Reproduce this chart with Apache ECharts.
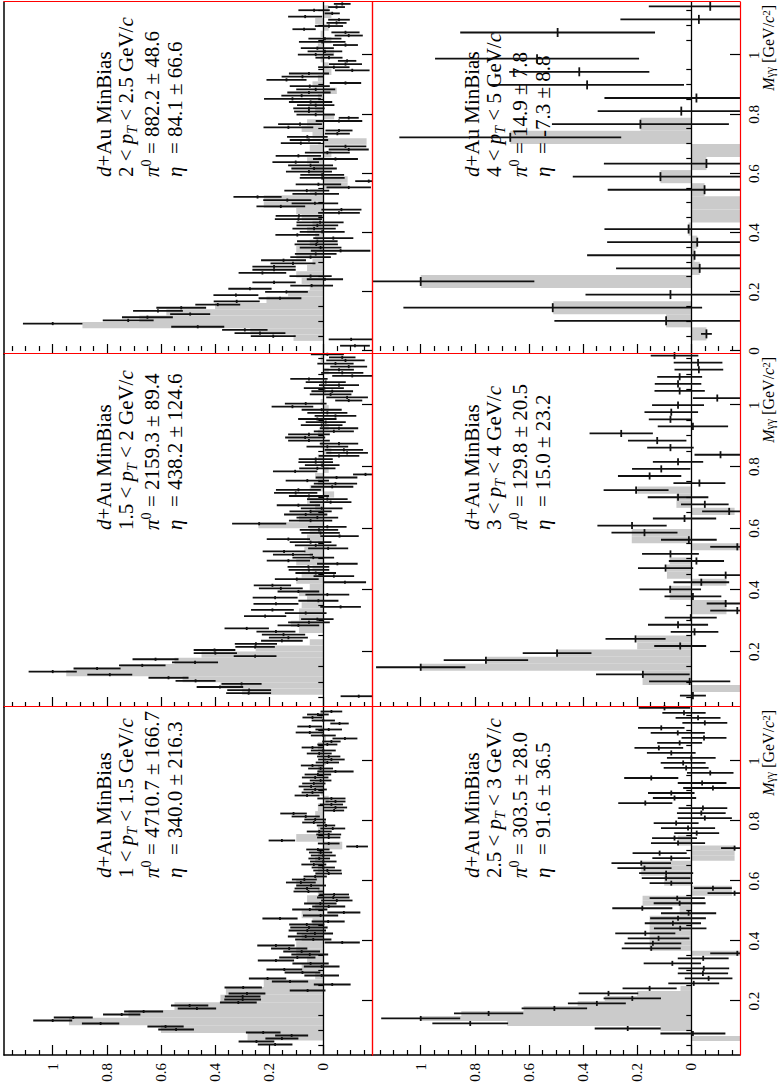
<!DOCTYPE html>
<html>
<head>
<meta charset="utf-8">
<script src="https://cdn.jsdelivr.net/npm/echarts@6.0.0/dist/echarts.min.js"></script>
<style>
  html, body { margin: 0; padding: 0; background: #fff; width: 782px; height: 1085px; overflow: hidden; }
  /* the figure is a landscape page turned a quarter turn to the left */
  #page { position: absolute; left: 0; top: 0; width: 1085px; height: 782px;
          transform-origin: 0 0; transform: translateY(1085px) rotate(-90deg); }
</style>
</head>
<body>
<div id="page"></div>
<script>
// ---- ticks ----
const massMajor = [0, 0.2, 0.4, 0.6, 0.8, 1];
const massMinor = [0.05, 0.1, 0.15, 0.25, 0.3, 0.35, 0.45, 0.5, 0.55, 0.65, 0.7, 0.75, 0.85, 0.9, 0.95, 1.05, 1.1, 1.15];
const valMajor = [0, 0.2, 0.4, 0.6, 0.8, 1];
const valMinor = [-0.15, -0.1, -0.05, 0.05, 0.1, 0.15, 0.25, 0.3, 0.35, 0.45, 0.5, 0.55, 0.65, 0.7, 0.75, 0.85, 0.9, 0.95, 1.05, 1.1, 1.15];
const colMassMin = [0.02, 0.02, -0.01];
const colMassMax = [1.18, 1.166, 1.18];
const valMin = -0.18, valMax = 1.18;

// ---- labels ----
const ptLow = ['1', '1.5', '2', '2.5', '3', '4'];
const ptHigh = ['1.5', '2', '2.5', '3', '4', '5'];
const piText = ['4710.7 \u00b1 166.7', '2159.3 \u00b1 89.4', '882.2 \u00b1 48.6', '303.5 \u00b1 28.0', '129.8 \u00b1 20.5', '14.9 \u00b1 7.8'];
const etaText = ['340.0 \u00b1 216.3', '438.2 \u00b1 124.6', '84.1 \u00b1 66.6', '91.6 \u00b1 36.5', '15.0 \u00b1 23.2', '-7.3 \u00b1 8.8'];

// ---- 1 < pT < 1.5 ----
const aStart = 0.055, aWidth = 0.01;
const aVal = [0.178, 0.247, 0.153, 0.117, 0.222, 0.544, 0.583, 0.823, 1.0, 0.924, 0.745, 0.664, 0.467, 0.494, 0.314, 0.298, 0.298, 0.282, 0.058, 0.296,
  -0.033, 0.123, 0.206, 0.006, 0.077, 0.144, 0.006, 0.047, 0.175, 0.096, 0.05, 0.08, 0.126, 0.175, -0.07, 0.037, 0.065, 0.031, 0.059, 0.053,
  0.061, -0.018, 0.16, 0.01, -0.076, 0.05, -0.02, 0.011, -0.05, -0.037, -0.04, 0.055,
  0.06, 0.045, 0.083, 0.07, 0.03, -0.02, -0.015, 0, 0.035, 0, 0.015, 0, 0.01, 0.02, -0.125, -0.02, 0.153, -0.02, -0.02, 0.015,
  -0.035, -0.01, 0.035, 0.03, 0.065, 0.11, -0.04, -0.045, -0.03, -0.045, -0.03, 0.06, 0.04, 0.03, 0.045, 0.035, 0.01, 0.03, 0.02, -0.045,
  0.01, 0.04, -0.015, -0.03, -0.02, 0.015, 0, 0.04, -0.015, -0.03, -0.08, 0, 0.05, -0.02, 0.05, -0.06, 0, 0.04, 0.02, -0.03];
const aErr = [0.064, 0.066, 0.061, 0.061, 0.064, 0.066, 0.067, 0.069, 0.072, 0.072, 0.069, 0.072, 0.071, 0.069, 0.068, 0.068, 0.066, 0.068, 0.066, 0.069,
  0.068, 0.067, 0.069, 0.064, 0.066, 0.066, 0.066, 0.067, 0.067, 0.067, 0.068, 0.068, 0.067, 0.069, 0.065, 0.067, 0.066, 0.067, 0.069, 0.069,
  0.065, 0.061, 0.065, 0.065, 0.061, 0.065, 0.061, 0.06, 0.058, 0.06, 0.055, 0.055,
  0.046, 0.055, 0.055, 0.046, 0.043, 0.049, 0.052, 0.043, 0.046, 0.049, 0.04, 0.046, 0.043, 0.043, 0.04, 0.04, 0.049, 0.043, 0.046, 0.046,
  0.046, 0.034, 0.043, 0.04, 0.052, 0.049, 0.037, 0.043, 0.043, 0.037, 0.052, 0.046, 0.04, 0.043, 0.046, 0.043, 0.04, 0.049, 0.049, 0.067,
  0.046, 0.043, 0.043, 0.049, 0.043, 0.046, 0.046, 0.04, 0.037, 0.034, 0.046, 0.046, 0.052, 0.049, 0.046, 0.034, 0.043, 0.037, 0.04, 0.04];
const aGrayStart = 0.068, aGrayWidth = 0.0255;
const aGray = [0.28, 0.6, 0.94, 0.72, 0.55, 0.38, 0.36, 0.22, 0.03, 0.08, 0.06, 0.1, 0.1, 0.08, 0.05, 0.04, 0.08, 0.03, 0.06, 0.02,
  0.1, 0.03, 0.02, 0.03, 0.02, -0.07, 0.1, 0.02, -0.01, 0.03, 0.02, -0.02, 0.01, 0.03, 0, 0.02, -0.01, 0.01, 0.02, -0.01, 0.01, 0, 0.01, 0];

// ---- 1.5 < pT < 2 ----
const bStart = 0.055, bWidth = 0.01;
const bVal = [-0.131, 0.276, 0.274, 0.382, 0.302, 0.472, 0.572, 0.789, 1.0, 0.836, 0.669, 0.474, 0.62, 0.252, 0.399, 0.402, 0.252, 0.249, 0.153, 0.129,
  0.147, 0.175, 0.283, 0.092, 0.053, 0.022, 0.215, 0.065, 0.188, -0.064, 0.175, 0.018, 0.178, -0.015, 0.092, 0.157, 0.188, -0.08, 0.098, -0.039,
  0.028, 0.053, 0.055, -0.052, 0.129, 0.037, 0.112, 0.145, -0.018, 0.028, 0.047, 0.129, -0.06, 0.01, 0.016, -0.015,
  0.237, 0.047, 0.022, 0.065, 0.047, 0.006, 0.092, -0.027, -0.015, 0.053, 0.102, 0.092, -0.033, -0.045, 0.059, -0.049, -0.156, 0.104, 0.022, 0.004,
  0.028, 0.028, -0.058, -0.088, -0.076, -0.015, -0.058, 0.053, 0.067, 0.053, -0.039, -0.058, 0.006, -0.009, 0.022, -0.045, -0.015, 0.006, 0.114, 0.065,
  -0.094, -0.088, -0.027, -0.033, -0.002, -0.058, -0.009, 0.053, -0.107, -0.07, -0.058, -0.094, -0.045, -0.082, -0.07, -0.015];
const bErr = [0.067, 0.083, 0.081, 0.086, 0.074, 0.074, 0.074, 0.083, 0.089, 0.087, 0.086, 0.085, 0.085, 0.079, 0.08, 0.077, 0.073, 0.078, 0.077, 0.072,
  0.08, 0.072, 0.082, 0.077, 0.077, 0.06, 0.078, 0.077, 0.079, 0.075, 0.083, 0.074, 0.083, 0.081, 0.077, 0.081, 0.069, 0.078, 0.081, 0.075,
  0.075, 0.075, 0.077, 0.075, 0.08, 0.077, 0.074, 0.079, 0.074, 0.077, 0.077, 0.08, 0.071, 0.071, 0.071, 0.071,
  0.1, 0.08, 0.077, 0.08, 0.078, 0.077, 0.08, 0.077, 0.075, 0.074, 0.08, 0.083, 0.078, 0.08, 0.08, 0.077, 0.046, 0.082, 0.067, 0.064,
  0.064, 0.063, 0.075, 0.077, 0.071, 0.077, 0.071, 0.077, 0.074, 0.077, 0.074, 0.071, 0.077, 0.074, 0.071, 0.077, 0.074, 0.074, 0.077, 0.077,
  0.05, 0.077, 0.077, 0.077, 0.074, 0.074, 0.074, 0.069, 0.074, 0.078, 0.055, 0.068, 0.067, 0.071, 0.049, 0.061];
const bGrayStart = 0.06, bGrayWidth = 0.02;
const bGray = [0.3, 0.38, 0.52, 0.95, 0.75, 0.55, 0.45, 0.25, 0.05, 0, 0.09, 0.12, 0.09, 0.09, 0.08, 0.06, 0.09, 0.05, 0.1, 0.08,
  0.04, 0.1, 0.05, 0.07, 0.02, 0.06, 0.05, 0.24, 0.09, 0.05, 0.03, 0.06, -0.04, 0.05, 0.02, 0.03, -0.02, 0.01, 0.02, -0.03,
  0.01, 0, 0.02, -0.02, 0.01, 0, -0.02, 0.01, 0, -0.01, 0.01, 0, -0.02, 0, 0.01, 0];

// ---- 2 < pT < 2.5 ----
const cStart = 0.018, cWidth = 0.0107;
const cVal = [-0.117, null, -0.103, 0.185, 0.234, 0.29, 0.464, 1.0, 0.721, 0.65, 0.492, 0.611, 0.525, 0.39, 0.32, 0.16, 0.323, 0.136, 0.271, 0.043,
  0.182, -0.006, 0.047, 0.225, 0.182, 0.182, 0.112, 0.147, 0.047, 0.028, -0.064, 0.01, 0.026, 0.022, -0.037, 0.096, 0.004, 0.034, 0.022, 0.012,
  0.092, 0.09, -0.058, -0.067, 0.157, 0.031, 0.133, 0.243, 0.028, 0.061, -0.094, 0.018, -0.168, 0.004, 0.004, 0.053,
  0.034, 0.047, 0.102, -0.045, 0.092, -0.015, -0.094, -0.082, 0.083, 0.053, 0.059, -0.052, -0.058, 0.129, 0.086, -0.058, -0.094, 0.028, 0.053, 0.053,
  0.028, 0.047, 0.114, 0.08, 0.053, 0.028, 0.05, -0.082, 0.136, 0.077, 0.053, -0.107, -0.039, -0.082, -0.088, -0.021, 0.028, -0.006, 0.022, -0.082,
  0.004, -0.006, -0.094, -0.082, 0.071, -0.021, -0.049, -0.058, 0.067, -0.033, 0.034, -0.049, -0.07];
const cErr = [0.055, 0, 0.083, 0.083, 0.094, 0.084, 0.098, 0.11, 0.094, 0.094, 0.074, 0.092, 0.092, 0.083, 0.085, 0.079, 0.083, 0.079, 0.08, 0.079,
  0.08, 0.067, 0.078, 0.088, 0.08, 0.08, 0.083, 0.083, 0.075, 0.077, 0.11, 0.077, 0.08, 0.075, 0.074, 0.081, 0.083, 0.08, 0.077, 0.087,
  0.087, 0.086, 0.077, 0.074, 0.09, 0.086, 0.089, 0.089, 0.086, 0.083, 0.082, 0.084, 0.05, 0.083, 0.081, 0.085,
  0.084, 0.083, 0.086, 0.083, 0.084, 0.083, 0.074, 0.077, 0.074, 0.071, 0.075, 0.046, 0.05, 0.092, 0.081, 0.086, 0.037, 0.071, 0.055, 0.058,
  0.069, 0.08, 0.105, 0.075, 0.08, 0.072, 0.074, 0.058, 0.074, 0.077, 0.074, 0.064, 0.058, 0.061, 0.034, 0.05, 0.066, 0.064, 0.061, 0.046,
  0.086, 0.061, 0.052, 0.052, 0.043, 0.052, 0.037, 0.04, 0.063, 0.028, 0.058, 0.031, 0.031];
const cGrayStart = 0.013, cGrayWidth = 0.0214;
const cGray = [0, 0.11, 0.27, 0.89, 0.68, 0.58, 0.4, 0.21, 0.13, 0.05, 0.08, 0.1, 0.06, 0.04, 0.1, 0.1, 0.05, 0.03, 0.06, 0.04,
  0.08, 0.1, 0.22, 0.22, 0.05, -0.09, -0.09, 0.05, 0.04, 0.06, -0.03, 0.05, -0.16, 0.04, 0.08, 0.06, -0.04, 0.03, 0.05, 0.02,
  -0.05, 0.04, 0.02, -0.03, -0.02, 0.01, -0.04, 0.02, -0.03, 0.01, -0.02, 0.03, -0.03, -0.02, 0];

// ---- 2.5 < pT < 3 ----
const dStart = 0.075, dWidth = 0.0167;
const dVal = [null, -0.006, 0.235, 0.817, 1.0, 0.749, 0.506, 0.349, 0.218, 0.306, 0.154, -0.009, -0.064, -0.043, -0.046, 0.07, -0.044, -0.17, 0.148, 0.142,
  0.121, 0.17, 0.041, 0.068, 0.049, 0.01, 0.181, 0.043, 0.052, -0.16,
  -0.08, 0.074, 0.093, 0.093, 0.173, 0.185, 0.074, 0.117, -0.16, 0.049, 0.062, -0.02, 0.012, 0.056, -0.05, -0.037, -0.043, 0.17, 0.062, 0.074,
  -0.08, -0.04, 0.148, -0.07, 0.019, 0.03, 0.0, 0.074, 0.12, 0.043, -0.047, 0.05, 0.111, -0.05, -0.025, 0.027, 0.099];
const dErr = [0, 0.12, 0.122, 0.14, 0.146, 0.128, 0.121, 0.107, 0.106, 0.11, 0.1, 0.094, 0.088, 0.093, 0.094, 0.106, 0.094, 0.1, 0.109, 0.105,
  0.114, 0.111, 0.097, 0.104, 0.103, 0.102, 0.111, 0.096, 0.102, 0.1,
  0.07, 0.08, 0.09, 0.1, 0.1, 0.11, 0.07, 0.1, 0.05, 0.1, 0.083, 0.083, 0.1, 0.083, 0.1, 0.09, 0.09, 0.1, 0.08, 0.086,
  0.11, 0.09, 0.1, 0.086, 0.083, 0.083, 0.09, 0.09, 0.09, 0.083, 0.083, 0.1, 0.086, 0.083, 0.083, 0.08, 0.095];
const dGray = [-0.25, 0, 0.114, 0.68, 1.0, 0.85, 0.62, 0.42, 0.32, 0.2, 0.04, 0, 0, 0, 0, 0, 0, -0.25, 0.154, 0.154,
  0.154, 0.154, 0.154, 0.154, 0.154, 0.043, 0.043, 0.18, 0.18, -0.15, -0.15, 0.1, 0.1, 0.185, 0.185, 0.185, -0.16, -0.16, -0.16, 0.05,
  0.05, 0, 0, 0, 0, 0, 0, 0, 0, 0, 0, 0, 0, 0, 0, 0, 0, 0, 0, 0, 0, 0, 0, 0, 0, 0, 0];

// ---- 3 < pT < 4 ----
const eStart = 0.057, eWidth = 0.023;
const eVal = [-0.006, null, 0.006, 0.179, 1.0, 0.759, 0.496, 0.041, 0.206, -0.012, 0.049, 0.002, -0.17, -0.127, -0.006, 0.078, -0.037, -0.127, 0.095, -0.019,
  0.077, -0.17, 0.009, 0.173, 0.219, 0.025, -0.14, -0.05, 0.049, 0.204, -0.03, 0.154, 0.111, 0.049, -0.108, 0.077, 0.126, 0.259, -0.006, 0.077,
  0.074, 0.049, -0.096, 0.043, 0.049, 0.043, -0.028, -0.025, 0.062];
const eErr = [0.048, 0, 0.15, 0.173, 0.165, 0.156, 0.127, 0.096, 0.111, 0.088, 0.111, 0.096, 0.1, 0.07, 0.105, 0.114, 0.103, 0.1, 0.102, 0.102,
  0.105, 0.1, 0.103, 0.122, 0.128, 0.117, 0.1, 0.088, 0.112, 0.12, 0.096, 0.117, 0.108, 0.093, 0.096, 0.086, 0.108, 0.117, 0.13, 0.08,
  0.099, 0.096, 0.09, 0.093, 0.086, 0.083, 0.09, 0.09, 0.088];
const eGray = [0, -0.25, 0.18, 0.18, 1.0, 0.76, 0.5, 0.2, 0.2, 0, 0, 0, -0.13, -0.13, 0.08, 0.08, -0.13, 0.09, 0.09, 0.08,
  0, -0.25, 0.22, 0.22, 0, 0, -0.16, 0.055, 0.055, 0.2, 0, 0, 0, 0, 0, 0, 0, 0, 0, 0, 0, 0, 0, 0, 0, 0, 0, 0, 0];

// ---- 4 < pT < 5 ----
const fStart = 0.058, fWidth = 0.0443;
const fVal = [-0.056, 0.093, 0.512, 0.077, 1.0, -0.031, -0.012, -0.022, 0.01, null, null, -0.049, 0.114, -0.056, null, 0.669, 0.188, 0.037, -0.019, 0.385,
  0.414, 0.57, null, 0.494, -0.028, -0.07];
const fErr = [0.02, 0.413, 0.552, 0.314, 0.42, 0.309, 0.397, 0.333, 0.311, 0, 0, 0.358, 0.324, 0.379, 0, 0.41, 0.327, 0.309, 0.34, 0.358,
  0.259, 0.377, 0, 0.36, 0.29, 0.227];
const fGray = [-0.056, 0.093, 0.51, 0, 1.0, -0.031, -0.012, -0.022, 0.01, -0.5, -0.5, -0.049, 0.114, -0.056, -0.5, 0.669, 0.188, 0, 0, 0,
  0, 0, 0, 0, 0, 0];

// ---- layout (landscape page, 1085 x 782) ----
const colLeft = [30, 378, 731], colWidth = [348, 353, 352];
const rowTop = [4, 372], rowHeight = 368;
const SERIF = '"Liberation Serif", "DejaVu Serif", serif';
const GRAY = '#cbcbcb';
const INK = '#111';
const RED = '#ff0000';

const panels = [
  { row: 0, col: 0, start: aStart, width: aWidth, val: aVal, err: aErr, gStart: aGrayStart, gWidth: aGrayWidth, gray: aGray },
  { row: 0, col: 1, start: bStart, width: bWidth, val: bVal, err: bErr, gStart: bGrayStart, gWidth: bGrayWidth, gray: bGray },
  { row: 0, col: 2, start: cStart, width: cWidth, val: cVal, err: cErr, gStart: cGrayStart, gWidth: cGrayWidth, gray: cGray },
  { row: 1, col: 0, start: dStart, width: dWidth, val: dVal, err: dErr, gStart: dStart - dWidth / 2, gWidth: dWidth, gray: dGray },
  { row: 1, col: 1, start: eStart, width: eWidth, val: eVal, err: eErr, gStart: eStart - eWidth / 2, gWidth: eWidth, gray: eGray },
  { row: 1, col: 2, start: fStart, width: fWidth, val: fVal, err: fErr, gStart: fStart - fWidth / 2, gWidth: fWidth, gray: fGray }
];

function inRange(list, lo, hi) { return list.filter(v => v >= lo && v <= hi); }

function errRender(binWidth) {
  return function (params, api) {
    const m = api.value(0), v = api.value(1), e = api.value(2);
    const st = { stroke: INK, lineWidth: 1.8 };
    const kids = [];
    const lo = Math.max(v - e, valMin), hi = Math.min(v + e, valMax);
    if (hi > lo) {
      const p1 = api.coord([m, lo]), p2 = api.coord([m, hi]);
      kids.push({ type: 'line', shape: { x1: p1[0], y1: p1[1], x2: p2[0], y2: p2[1] }, style: st });
    }
    if (v >= valMin && v <= valMax) {
      const c = api.coord([m, v]);
      const half = Math.min(api.size([binWidth, 0])[0] * 0.5, 4.5);
      kids.push({ type: 'line', shape: { x1: c[0] - half, y1: c[1], x2: c[0] + half, y2: c[1] }, style: st });
    }
    return { type: 'group', children: kids };
  };
}

function grayRender(params, api) {
  const a = api.coord([api.value(0), 0]);
  const b = api.coord([api.value(1), api.value(2)]);
  const cs = params.coordSys;
  const r = echarts.graphic.clipRectByRect(
    { x: a[0], y: Math.min(a[1], b[1]), width: b[0] - a[0], height: Math.abs(b[1] - a[1]) },
    { x: cs.x, y: cs.y, width: cs.width, height: cs.height });
  if (!r || r.height <= 0) return;
  return { type: 'rect', shape: r, style: { fill: GRAY } };
}

const richBase = {
  it: { fontFamily: SERIF, fontSize: 21, fontStyle: 'italic', lineHeight: 26 },
  sub: { fontFamily: SERIF, fontSize: 14, fontStyle: 'italic', lineHeight: 10, verticalAlign: 'bottom' },
  sup: { fontFamily: SERIF, fontSize: 14, lineHeight: 10, verticalAlign: 'top' }
};

function textEl(x, y, text) {
  return {
    type: 'text', x: x, y: y, z: 3, silent: true,
    style: { text: text, fill: '#000', fontFamily: SERIF, fontSize: 21, lineHeight: 26,
             align: 'left', verticalAlign: 'middle', rich: richBase }
  };
}

function plainAxis(extra) {
  return Object.assign({ type: 'value', z: 6, axisTick: { show: false }, axisLabel: { show: false }, splitLine: { show: false } }, extra);
}

const grid = [], xAxis = [], yAxis = [], series = [], graphic = [];
panels.forEach((p, i) => {
  const mMin = colMassMin[p.col], mMax = colMassMax[p.col];
  const left = colLeft[p.col], top = rowTop[p.row], w = colWidth[p.col];
  grid.push({ left: left, top: top, width: w, height: rowHeight, show: false });
  const xi = xAxis.length, yi = yAxis.length;
  const majM = inRange(massMajor, mMin, mMax), minM = inRange(massMinor, mMin, mMax);
  // mass axis (bottom): red frame line with black ticks
  xAxis.push({
    type: 'value', gridIndex: i, min: mMin, max: mMax, position: 'bottom', z: 7,
    axisLine: { show: true, onZero: false, lineStyle: { color: RED, width: 1.2 } },
    axisTick: { show: true, inside: true, length: 10, customValues: majM, lineStyle: { color: '#000', width: 1.2 } },
    axisLabel: { show: p.row === 1, customValues: majM, margin: 6, color: '#000', fontFamily: SERIF, fontSize: 15 },
    splitLine: { show: false }
  });
  xAxis.push(plainAxis({
    gridIndex: i, min: mMin, max: mMax, position: 'bottom',
    axisLine: { show: false },
    axisTick: { show: true, inside: true, length: 5, customValues: minM, lineStyle: { color: '#000', width: 1.2 } }
  }));
  // top frame line
  xAxis.push(plainAxis({
    gridIndex: i, min: mMin, max: mMax, position: 'top', z: p.row === 0 ? 6 : 7,
    axisLine: { show: true, onZero: false, lineStyle: { color: p.row === 0 ? '#000' : RED, width: p.row === 0 ? 1.5 : 1.2 } }
  }));
  // value axis (left): black on the outer edge, red between panels
  yAxis.push({
    type: 'value', gridIndex: i, min: valMin, max: valMax, position: 'left', z: 6,
    axisLine: { show: true, onZero: false, lineStyle: { color: p.col === 0 ? '#000' : RED, width: p.col === 0 ? 1.5 : 1.2 } },
    axisTick: { show: true, inside: true, length: 10, customValues: valMajor, lineStyle: { color: '#000', width: 1.2 } },
    axisLabel: { show: p.col === 0, customValues: valMajor, margin: 8, color: '#000', fontFamily: SERIF, fontSize: 15 },
    splitLine: { show: false }
  });
  yAxis.push(plainAxis({
    gridIndex: i, min: valMin, max: valMax, position: 'left',
    axisLine: { show: false },
    axisTick: { show: true, inside: true, length: 5, customValues: valMinor, lineStyle: { color: '#000', width: 1.2 } }
  }));
  // right frame line, red
  yAxis.push(plainAxis({
    gridIndex: i, min: valMin, max: valMax, position: 'right', z: 7,
    axisLine: { show: true, onZero: false, lineStyle: { color: RED, width: 1.2 } }
  }));

  const grayData = p.gray.map((v, k) => [p.gStart + k * p.gWidth, p.gStart + (k + 1) * p.gWidth, v]);
  const pts = [];
  p.val.forEach((v, k) => { if (v !== null) pts.push([p.start + k * p.width, v, p.err[k]]); });

  series.push({ type: 'custom', xAxisIndex: xi, yAxisIndex: yi, z: 1, silent: true,
                renderItem: grayRender, data: grayData });
  series.push({ type: 'custom', xAxisIndex: xi, yAxisIndex: yi, z: 5, silent: true,
                renderItem: errRender(p.width), data: pts,
                markLine: { silent: true, symbol: ['none', 'none'], label: { show: false },
                            lineStyle: { color: '#000', width: 1.3, type: 'solid' },
                            data: [{ yAxis: 0 }] } });

  // annotation block
  const x0 = left + 177;
  graphic.push(textEl(x0, top + 100, '{it|d}+Au MinBias'));
  graphic.push(textEl(x0, top + 122, ptLow[i] + ' < {it|p}{sub|T} < ' + ptHigh[i] + ' GeV/{it|c}'));
  graphic.push(textEl(x0, top + 148, '{it|\u03c0}{sup|0}'));
  graphic.push(textEl(x0 + 23, top + 148, '= ' + piText[i]));
  graphic.push(textEl(x0, top + 171, '{it|\u03b7}'));
  graphic.push(textEl(x0 + 23, top + 171, '= ' + etaText[i]));

  if (p.row === 1) {
    graphic.push({
      type: 'text', x: left + w - 3, y: 768, z: 3, silent: true,
      style: { text: '{it|M}{sub|\u03b3\u03b3} [GeV/{it|c}{sup|2}]', fill: '#000', fontFamily: SERIF, fontSize: 16,
               lineHeight: 16, align: 'right', verticalAlign: 'middle',
               rich: {
                 it: { fontFamily: SERIF, fontSize: 16, fontStyle: 'italic', lineHeight: 16 },
                 sub: { fontFamily: SERIF, fontSize: 12, lineHeight: 6, verticalAlign: 'bottom' },
                 sup: { fontFamily: SERIF, fontSize: 11, lineHeight: 6, verticalAlign: 'top' }
               } }
    });
  }
});

const chart = echarts.init(document.getElementById('page'), null, { renderer: 'svg', width: 1085, height: 782 });
chart.setOption({
  animation: false,
  backgroundColor: '#fff',
  grid: grid, xAxis: xAxis, yAxis: yAxis, series: series, graphic: graphic
});
</script>
</body>
</html>
